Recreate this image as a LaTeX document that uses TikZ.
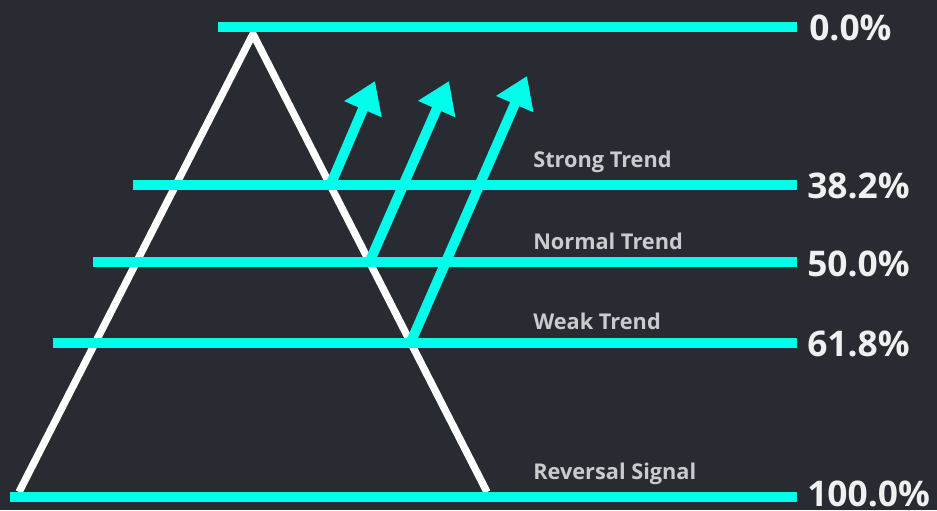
\documentclass[tikz,border=0pt]{standalone}
\usepackage{fontspec}
\setmainfont{Open Sans}
\usepackage{xcolor}
\usetikzlibrary{arrows.meta,calc}
\definecolor{boardbg}{HTML}{282B32}
\definecolor{fibcyan}{HTML}{00FFEA}
\definecolor{labelgrey}{HTML}{C9CBCD}
\tikzset{
  levelline/.style={draw=fibcyan,line width=7.5pt},
  trendarrow/.style={draw=fibcyan,line width=7.5pt,-{Triangle[length=23pt,width=29pt]}},
  pyramidline/.style={draw=white,line width=5.5pt,line join=miter},
  percentlabel/.style={font=\bfseries\fontsize{26.5}{30}\selectfont,text=white!94!black,anchor=west,inner sep=0pt},
  trendlabel/.style={font=\bfseries\fontsize{16.3}{19}\selectfont,text=labelgrey,anchor=west,inner sep=0pt}
}

\begin{document}
\begin{tikzpicture}[x=0.75pt,y=-0.75pt]
  \fill[boardbg] (0,0) rectangle (937,510);
  \useasboundingbox (0,0) rectangle (937,510);
  % pyramid
  \coordinate (apex) at (253,34);
  \coordinate (baseL) at (19,492);
  \coordinate (baseR) at (487,492);
  \draw[pyramidline] (baseL) -- (apex) -- (baseR);
  % levels
  \coordinate (l0a) at (218,27);    \coordinate (l0b) at (797,27);
  \coordinate (l38a) at (133,185);  \coordinate (l38b) at (797,185);
  \coordinate (l50a) at (93,262);   \coordinate (l50b) at (797,262);
  \coordinate (l61a) at (53,343);   \coordinate (l61b) at (797,343);
  \coordinate (l100a) at (10,497);  \coordinate (l100b) at (797,497);
  \draw[levelline] (l0a) -- (l0b);
  \draw[levelline] (l38a) -- (l38b);
  \draw[levelline] (l50a) -- (l50b);
  \draw[levelline] (l61a) -- (l61b);
  \draw[levelline] (l100a) -- (l100b);
  \node[percentlabel] (p0) at (809,28) {0.0\%};
  \node[percentlabel] (p38) at (807,186) {38.2\%};
  \node[percentlabel] (p50) at (807,264) {50.0\%};
  \node[percentlabel] (p61) at (807,344) {61.8\%};
  \node[percentlabel] (p100) at (807,494) {100.0\%};
  \node[trendlabel] (strong) at (533,162) {Strong Trend};
  \node[trendlabel] (normal) at (533,241) {Normal Trend};
  \node[trendlabel] (weak) at (533,321) {Weak Trend};
  \node[trendlabel] (reversal) at (533,474) {Reversal Signal};
  % arrows
  \coordinate (s1) at (330,186);  \coordinate (t1) at (375,81);
  \coordinate (s2) at (369,263);  \coordinate (t2) at (449,81);
  \coordinate (s3) at (410,344);  \coordinate (t3) at (527,76);
  \draw[trendarrow] (s1) -- (t1);
  \draw[trendarrow] (s2) -- (t2);
  \draw[trendarrow] (s3) -- (t3);
\end{tikzpicture}
\end{document}
